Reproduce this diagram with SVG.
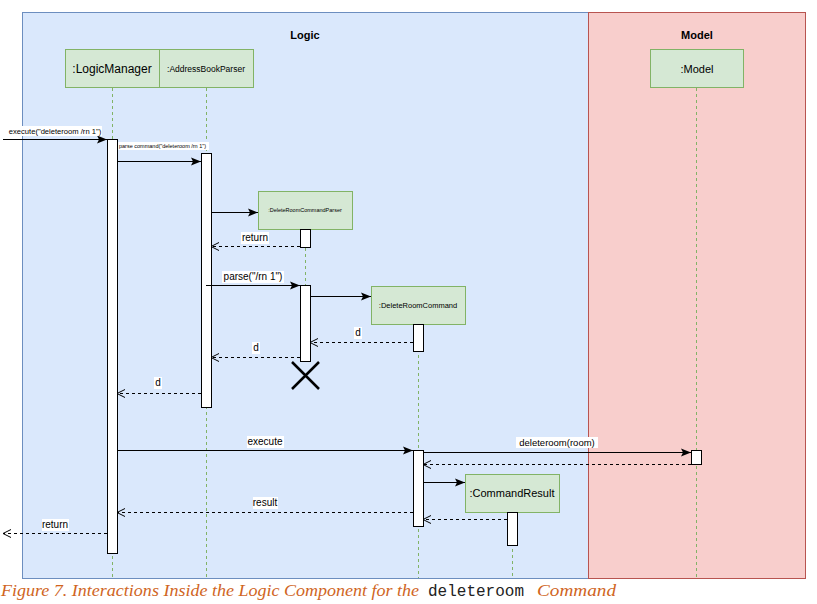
<svg xmlns="http://www.w3.org/2000/svg" width="817" height="604" viewBox="0 0 817 604">
<style>
.lbl{font-family:"Liberation Sans",Arial,sans-serif;fill:#000;text-anchor:middle}
.box{fill:#d5e8d4;stroke:#82b366;stroke-width:1}
.life{stroke:#82b366;stroke-width:1;stroke-dasharray:3 3;fill:none}
.act{fill:#fff;stroke:#000;stroke-width:1}
.msg{stroke:#000;stroke-width:1;fill:none;marker-end:url(#filled)}
.ret{stroke:#000;stroke-width:1;fill:none;stroke-dasharray:3 3;marker-end:url(#open)}
.bg{fill:#fff}
.cap{font-family:"Liberation Serif","Times New Roman",serif;font-style:italic;font-size:17px;fill:#d0651e}
</style>
<defs>
<marker id="filled" viewBox="0 0 10 10" refX="10" refY="5" markerWidth="10" markerHeight="10" markerUnits="userSpaceOnUse" orient="auto">
<path d="M0,1 L10,5 L0,9 L2,5 Z" fill="#000"/>
</marker>
<marker id="open" viewBox="0 0 10 10" refX="9" refY="5" markerWidth="10" markerHeight="10" markerUnits="userSpaceOnUse" orient="auto">
<path d="M1,1 L9,5 L1,9" fill="none" stroke="#000" stroke-width="1"/>
</marker>
</defs>
<rect width="817" height="604" fill="#fff"/>
<g id="frame-logic">
<rect x="22.5" y="12.5" width="566" height="566" fill="#dae8fc" stroke="#6c8ebf"/>
<text x="305" y="39" class="lbl" font-size="11" font-weight="bold">Logic</text>
</g>
<g id="frame-model">
<rect x="588.5" y="12.5" width="217" height="566" fill="#f8cecc" stroke="#b85450"/>
<text x="697" y="39" class="lbl" font-size="11" font-weight="bold">Model</text>
</g>
<g id="lifelines">
<line x1="112.5" y1="88" x2="112.5" y2="578" class="life"/>
<line x1="206.5" y1="88" x2="206.5" y2="578" class="life"/>
<line x1="305.5" y1="230" x2="305.5" y2="362" class="life"/>
<line x1="418.5" y1="325" x2="418.5" y2="578" class="life"/>
<line x1="512.5" y1="513" x2="512.5" y2="578" class="life"/>
<line x1="696.5" y1="88" x2="696.5" y2="578" class="life"/>
</g>
<g id="n-logicmanager">
<rect x="65.5" y="49.5" width="94" height="38" class="box"/>
<text x="112" y="73" class="lbl" font-size="12">:LogicManager</text>
</g>
<g id="n-addressbookparser">
<rect x="159.5" y="49.5" width="94" height="38" class="box"/>
<text x="206" y="72" class="lbl" font-size="8.5">:AddressBookParser</text>
</g>
<g id="n-deleteroomcommandparser">
<rect x="258.5" y="191.5" width="94" height="38" class="box"/>
<text x="305" y="212" class="lbl" font-size="5.5">:DeleteRoomCommandParser</text>
</g>
<g id="n-deleteroomcommand">
<rect x="371.5" y="286.5" width="94" height="38" class="box"/>
<text x="418" y="308" class="lbl" font-size="7.5">:DeleteRoomCommand</text>
</g>
<g id="n-commandresult">
<rect x="465.5" y="474.5" width="94" height="38" class="box"/>
<text x="512" y="497" class="lbl" font-size="11">:CommandResult</text>
</g>
<g id="n-model">
<rect x="650.5" y="49.5" width="93" height="38" class="box"/>
<text x="697" y="73" class="lbl" font-size="11">:Model</text>
</g>
<g id="activations">
<rect x="107.5" y="139.5" width="10" height="414" class="act"/>
<rect x="201.5" y="153.5" width="10" height="254" class="act"/>
<rect x="300.5" y="229.5" width="10" height="18" class="act"/>
<rect x="300.5" y="285.5" width="10" height="76" class="act"/>
<rect x="413.5" y="324.5" width="10" height="27" class="act"/>
<rect x="413.5" y="450.5" width="10" height="76" class="act"/>
<rect x="691.5" y="450.5" width="10" height="14" class="act"/>
<rect x="507.5" y="512.5" width="10" height="33" class="act"/>
</g>
<g id="destroy">
<path d="M292,362 L319,389 M319,362 L292,389" stroke="#000" stroke-width="2.5" fill="none"/>
</g>
<g id="connectors">
<line x1="3" y1="139.5" x2="107" y2="139.5" class="msg"/>
<line x1="117" y1="161.5" x2="201" y2="161.5" class="msg"/>
<line x1="211" y1="212.5" x2="258" y2="212.5" class="msg"/>
<line x1="300" y1="246.5" x2="211" y2="246.5" class="ret"/>
<line x1="206" y1="285.5" x2="300" y2="285.5" class="msg"/>
<line x1="310" y1="296.5" x2="371" y2="296.5" class="msg"/>
<line x1="413" y1="342.5" x2="310" y2="342.5" class="ret"/>
<line x1="300" y1="357.5" x2="211" y2="357.5" class="ret"/>
<line x1="201" y1="393.5" x2="117" y2="393.5" class="ret"/>
<line x1="117" y1="450.5" x2="413" y2="450.5" class="msg"/>
<line x1="423" y1="452.5" x2="691" y2="452.5" class="msg"/>
<line x1="691" y1="464.5" x2="423" y2="464.5" class="ret"/>
<line x1="423" y1="482.5" x2="465" y2="482.5" class="msg"/>
<line x1="413" y1="512.5" x2="117" y2="512.5" class="ret"/>
<line x1="507" y1="519.5" x2="423" y2="519.5" class="ret"/>
<line x1="107" y1="533.5" x2="3" y2="533.5" class="ret"/>
</g>
<g id="labels">
<rect x="9" y="126" width="93" height="10" class="bg"/>
<text x="55" y="134" class="lbl" font-size="7.6">execute("deleteroom /rn 1")</text>
<rect x="118" y="142" width="91" height="8" class="bg"/>
<text x="119" y="148" class="lbl" font-size="5.5" style="text-anchor:start">parse command("deleteroom /rn 1")</text>
<rect x="241" y="232" width="28" height="12" class="bg"/>
<text x="255" y="241" class="lbl" font-size="10">return</text>
<rect x="222" y="271" width="62" height="12" class="bg"/>
<text x="253" y="280" class="lbl" font-size="10">parse("/rn 1")</text>
<rect x="354" y="327" width="8" height="12" class="bg"/>
<text x="358" y="336" class="lbl" font-size="10">d</text>
<rect x="252" y="342" width="8" height="12" class="bg"/>
<text x="256" y="351" class="lbl" font-size="10">d</text>
<rect x="154" y="377" width="8" height="12" class="bg"/>
<text x="158" y="386" class="lbl" font-size="10">d</text>
<rect x="247" y="436" width="37" height="12" class="bg"/>
<text x="265" y="445" class="lbl" font-size="10">execute</text>
<rect x="516" y="437" width="82" height="11" class="bg"/>
<text x="557" y="446" class="lbl" font-size="9.5">deleteroom(room)</text>
<rect x="253" y="497" width="25" height="12" class="bg"/>
<text x="265" y="506" class="lbl" font-size="10">result</text>
<rect x="42" y="519" width="27" height="12" class="bg"/>
<text x="55" y="528" class="lbl" font-size="10">return</text>
</g>
<g id="caption">
<text x="1" y="596" class="cap" textLength="418" lengthAdjust="spacingAndGlyphs">Figure 7. Interactions Inside the Logic Component for the</text>
<text x="428" y="596" font-family="'Liberation Mono','Courier New',monospace" font-size="16" fill="#222">deleteroom</text>
<text x="537" y="596" class="cap" textLength="79" lengthAdjust="spacingAndGlyphs">Command</text>
</g>
</svg>
